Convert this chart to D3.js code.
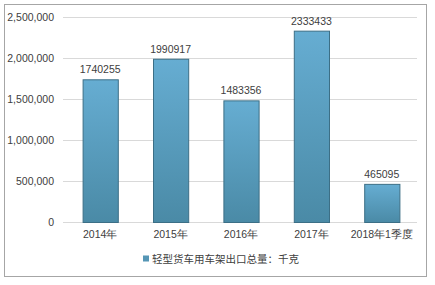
<!DOCTYPE html>
<html>
<head>
<meta charset="utf-8">
<script src="https://cdn.jsdelivr.net/npm/d3@7"></script>
<style>
  html, body { margin: 0; padding: 0; background: #fff; }
  svg { display: block; font-family: "Liberation Sans", "Noto Sans CJK SC", sans-serif; }
</style>
</head>
<body>
<svg id="chart" width="435" height="285"></svg>
<script>
// Light truck frame exports, kilograms
const categories = ["2014年", "2015年", "2016年", "2017年", "2018年1季度"];
const values = [1740255, 1990917, 1483356, 2333433, 465095];
const yTicks = [0, 500000, 1000000, 1500000, 2000000, 2500000];
const seriesName = "轻型货车用车架出口总量：千克";

const svg = d3.select("#chart");

// outer frame
svg.append("rect")
  .attr("x", 4.5).attr("y", 4.5)
  .attr("width", 422).attr("height", 272)
  .attr("fill", "#fff")
  .attr("stroke", "#a6a6a6").attr("stroke-width", 1);

const x = d3.scaleBand().domain(categories).range([65, 417]).paddingInner(0.5).paddingOuter(0.25);
const y = d3.scaleLinear().domain([0, 2500000]).range([222, 17]);

const defs = svg.append("defs");
const grad = defs.append("linearGradient")
  .attr("id", "barFill").attr("x1", 0).attr("y1", 0).attr("x2", 0).attr("y2", 1);
grad.append("stop").attr("offset", "0%").attr("stop-color", "#66add2");
grad.append("stop").attr("offset", "100%").attr("stop-color", "#4a8aa6");

// grid lines
svg.append("g")
  .selectAll("line")
  .data(yTicks)
  .join("line")
  .attr("x1", 63).attr("x2", 417)
  .attr("y1", d => Math.round(y(d)) + 0.5)
  .attr("y2", d => Math.round(y(d)) + 0.5)
  .attr("stroke", "#d9d9d9").attr("stroke-width", 1);

// y axis labels
const yAxis = d3.axisLeft(y).tickValues(yTicks).tickFormat(d3.format(",")).tickSize(0).tickPadding(0);
svg.append("g")
  .attr("transform", "translate(54,0)")
  .call(yAxis)
  .call(g => g.select(".domain").remove())
  .selectAll("text")
  .attr("font-size", 10.5)
  .attr("fill", "#404040");

// bars
svg.append("g")
  .selectAll("rect")
  .data(values)
  .join("rect")
  .attr("x", (d, i) => x(categories[i]) + 0.5)
  .attr("y", d => y(d) + 0.5)
  .attr("width", x.bandwidth())
  .attr("height", d => y(0) - y(d))
  .attr("fill", "url(#barFill)")
  .attr("stroke", "#3c6f86").attr("stroke-width", 1);

// value labels
svg.append("g")
  .selectAll("text")
  .data(values)
  .join("text")
  .attr("x", (d, i) => x(categories[i]) + x.bandwidth() / 2)
  .attr("y", d => y(d) - 6)
  .attr("text-anchor", "middle")
  .attr("font-size", 10.5)
  .attr("fill", "#404040")
  .text(d => d);

// x axis labels
const xAxis = d3.axisBottom(x).tickSize(0).tickPadding(0);
svg.append("g")
  .attr("transform", "translate(0,231)")
  .call(xAxis)
  .call(g => g.select(".domain").remove())
  .selectAll("text")
  .attr("font-size", 10.5)
  .attr("fill", "#404040");

// legend
const legend = svg.append("g").attr("transform", "translate(143,259)");
legend.append("rect")
  .attr("x", 0).attr("y", -3.5).attr("width", 6).attr("height", 6)
  .attr("fill", "#5596b5");
legend.append("text")
  .attr("x", 9).attr("y", 0)
  .attr("dy", "0.35em")
  .attr("font-size", 10.5)
  .attr("fill", "#404040")
  .text(seriesName);
</script>
</body>
</html>
